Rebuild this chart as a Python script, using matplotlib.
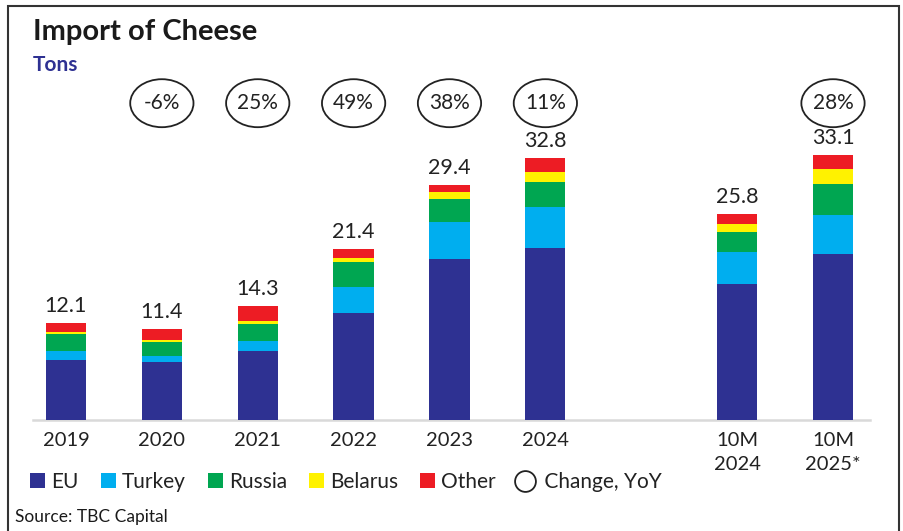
import matplotlib
matplotlib.use("Agg")
import matplotlib.pyplot as plt
from matplotlib.patches import Ellipse, Patch, Rectangle
from matplotlib.lines import Line2D

plt.rcParams['font.family'] = ['Lato', 'DejaVu Sans']

# cheese imports by origin, thousand tons
periods = ['2019', '2020', '2021', '2022', '2023', '2024', '10M\n2024', '10M\n2025*']
eu = [7.5, 7.3, 8.65, 13.4, 20.1, 21.5, 16.95, 20.7]
turkey = [1.1, 0.75, 1.25, 3.25, 4.6, 5.1, 4.0, 4.9]
russia = [2.2, 1.75, 2.1, 3.1, 2.9, 3.1, 2.6, 3.9]
belarus = [0.25, 0.25, 0.4, 0.55, 0.9, 1.25, 1.0, 1.85]
other = [1.05, 1.35, 1.9, 1.1, 0.9, 1.85, 1.25, 1.75]
yoy = [None, -6, 25, 49, 38, 11, None, 28]

series = [('EU', eu, '#2E3192'), ('Turkey', turkey, '#00AEEF'),
          ('Russia', russia, '#00A651'), ('Belarus', belarus, '#FFF200'),
          ('Other', other, '#ED1C24')]

xpos = [0, 1, 2, 3, 4, 5, 7, 8]
W, H = 904, 531

fig = plt.figure(figsize=(W / 100, H / 100), dpi=100)
ax = fig.add_axes([33 / W, (H - 420) / H, 837 / W, 360 / H])

bottom = [0.0] * len(xpos)
for name, vals, col in series:
    ax.bar(xpos, vals, width=0.42, bottom=bottom, color=col, zorder=3)
    bottom = [b + v for b, v in zip(bottom, vals)]

for x, tot in zip(xpos, bottom):
    ax.annotate(f'{tot:.1f}', (x, tot), xytext=(0, 5), textcoords='offset points',
                ha='center', va='bottom', fontsize=15.5, color='#222222')

# YoY change bubbles
for x, ch in zip(xpos, yoy):
    if ch is None:
        continue
    ax.add_patch(Ellipse((x, 39.6), 0.66, 6.0, facecolor='none', edgecolor='#222222',
                         lw=1.3, clip_on=False))
    ax.text(x, 39.6, f'{ch}%', ha='center', va='center', fontsize=15, color='#222222')

ax.set_xlim(-0.344, 8.386)
ax.set_ylim(0, 45)
ax.set_xticks(xpos)
ax.set_xticklabels(periods, fontsize=14.5, color='#222222')
for lbl in ax.get_xticklabels():
    lbl.set_linespacing(1.5)
ax.tick_params(axis='x', length=0, pad=9)
ax.set_yticks([])
for s in ['left', 'right', 'top']:
    ax.spines[s].set_visible(False)
ax.spines['bottom'].set_color('#d9d9d9')
ax.spines['bottom'].set_linewidth(1.8)

fig.text(33 / W, 1 - 32 / H, 'Import of Cheese', fontsize=21, fontweight='bold',
         color='#1a1a1a', va='center')
fig.text(33 / W, 1 - 65 / H, 'Tons', fontsize=15, fontweight='bold',
         color='#2E3192', va='center')
fig.text(15 / W, 1 - 517 / H, 'Source: TBC Capital', fontsize=12.5,
         color='#1a1a1a', va='center')

handles = [Patch(facecolor=col, label=name) for name, _, col in series]
handles.append(Line2D([], [], marker='o', ls='none', markersize=15,
                      markerfacecolor='none', markeredgecolor='#222222',
                      markeredgewidth=1.3, label=' Change, YoY'))
fig.legend(handles=handles, loc='center left', bbox_to_anchor=(30 / W, 1 - 482 / H),
           ncol=6, frameon=False, fontsize=15, handlelength=0.72, handleheight=0.72,
           handletextpad=0.3, columnspacing=1.05, borderpad=0, borderaxespad=0,
           labelcolor='#222222')

# frame around the chart, open at the bottom
fig.add_artist(Rectangle((8 / W, -0.05), 891 / W, 1.05 - 6 / H, transform=fig.transFigure,
                         facecolor='none', edgecolor='#333333', lw=1.5))

fig.savefig('out.png', dpi=100)
